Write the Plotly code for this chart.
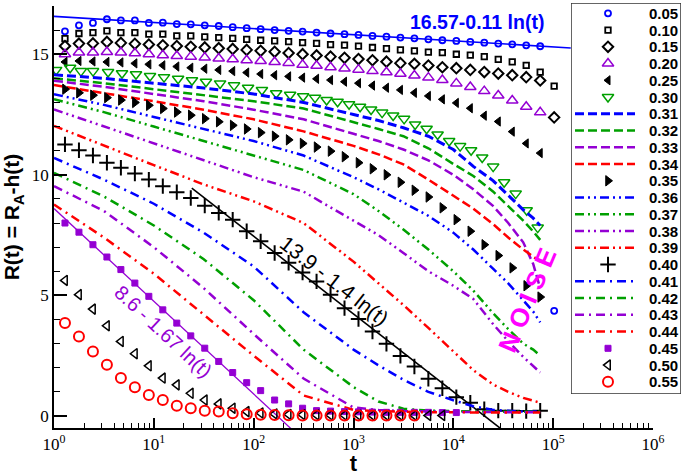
import plotly.graph_objects as go
import math

# ---------------- data ----------------
# common sampling times of the marker series
T = [1.288, 1.778, 2.455, 3.388, 4.677, 6.457, 8.913, 12.30, 16.98, 23.44, 32.36, 44.67,
     61.66, 85.11, 117.5, 162.2, 223.9, 309.0, 426.6, 588.8, 812.8, 1122, 1549, 2138,
     2951, 4074, 5623, 7762, 10715, 14791, 20417, 28184, 38905, 53703, 74131, 102329]
# sampling times of the p=0.30 series
T30 = [1.05, 1.45, 1.86, 2.46, 3.48, 4.80, 6.63, 9.16, 12.65, 17.5, 24.1, 33.3, 46.1, 63.6,
       87.9, 121, 168, 232, 313, 412, 538, 693, 903, 1164, 1500, 1935, 2495, 3214, 4142,
       5400, 6960, 9080, 11700, 15070, 19450, 25060, 32280, 42100, 54300, 70000]
# sampling times of the line series
TL = [1, 3.162, 10, 31.62, 100, 316.2, 1000, 1778, 3162, 5623, 10000, 15849, 25119,
      35481, 50119, 63096, 74131]

R05 = [15.95, 16.2, 16.3, 16.45, 16.4, 16.4, 16.3, 16.31, 16.25, 16.24, 16.2, 16.17, 16.12,
       16.08, 16.04, 16.0, 15.97, 15.94, 15.9, 15.86, 15.83, 15.8, 15.76, 15.73, 15.69, 15.66,
       15.62, 15.58, 15.55, 15.51, 15.48, 15.44, 15.41, 15.37, 15.33, 4.36]
R10 = [15.65, 15.86, 15.9, 15.97, 15.9, 15.9, 15.83, 15.83, 15.76, 15.76, 15.72, 15.69, 15.66,
       15.62, 15.58, 15.55, 15.52, 15.48, 15.45, 15.4, 15.38, 15.34, 15.28, 15.23, 15.18, 15.14,
       15.09, 15.07, 15.0, 14.96, 14.9, 14.79, 14.68, 14.54, 14.26, 13.68]
R15 = [15.34, 15.44, 15.45, 15.51, 15.47, 15.43, 15.4, 15.37, 15.34, 15.31, 15.28, 15.25, 15.22,
       15.18, 15.14, 15.1, 15.05, 15.0, 14.95, 14.9, 14.85, 14.8, 14.75, 14.69, 14.63, 14.6,
       14.53, 14.46, 14.42, 14.35, 14.26, 14.2, 14.13, 14.05, 13.91, 12.38]
R20 = [15.0, 15.07, 15.07, 15.09, 15.07, 15.04, 15.0, 14.96, 14.93, 14.9, 14.86, 14.82, 14.79,
       14.75, 14.72, 14.68, 14.64, 14.56, 14.52, 14.46, 14.41, 14.36, 14.3, 14.25, 14.19, 14.12,
       14.03, 13.93, 13.79, 13.64, 13.47, 13.29, 13.08, 12.82, 12.59]
R25 = [14.68, 14.72, 14.7, 14.68, 14.66, 14.62, 14.58, 14.54, 14.49, 14.44, 14.4, 14.35, 14.3,
       14.24, 14.18, 14.13, 14.08, 14.03, 13.98, 13.93, 13.86, 13.8, 13.7, 13.61, 13.52, 13.4,
       13.27, 13.13, 12.98, 12.76, 12.45, 12.21, 11.79, 11.3, 10.9]
R30 = [14.35, 14.44, 14.3, 14.3, 14.26, 14.21, 14.17, 14.1, 14.05, 13.98, 13.92, 13.86, 13.79,
       13.71, 13.61, 13.52, 13.38, 13.32, 13.26, 13.2, 13.1, 13.03, 12.93, 12.82, 12.71, 12.58,
       12.46, 12.32, 12.09, 11.91, 11.67, 11.4, 11.19, 11.02, 10.72, 10.34, 9.69, 9.22, 8.53, 7.81]
R35 = [13.55, 13.4, 13.3, 13.2, 13.1, 13.0, 12.88, 12.75, 12.6, 12.47, 12.33, 12.2, 12.05,
       11.9, 11.75, 11.6, 11.45, 11.3, 11.15, 10.98, 10.75, 10.5, 10.25, 10.0, 9.69, 9.36, 9.08,
       8.63, 8.14, 7.66, 7.1, 6.65, 6.14, 5.4, 4.93]
R40 = [11.26, 11.02, 10.8, 10.5, 10.29, 10.05, 9.8, 9.53, 9.28, 9.04, 8.72, 8.42, 8.14, 7.66,
       7.24, 6.76, 6.35, 5.95, 5.58, 5.03, 4.47, 4.02, 3.5, 2.99, 2.49, 2.05, 1.54, 1.15, 0.78,
       0.55, 0.28, 0.22, 0.22, 0.2, 0.22]
R45 = [8.0, 7.62, 7.1, 6.59, 6.07, 5.51, 4.96, 4.4, 3.85, 3.32, 2.81, 2.26, 1.8, 1.38, 1.05,
       0.66, 0.5, 0.32, 0.22, 0.2, 0.18, 0.17, 0.16, 0.15, 0.15, 0.15, 0.15, 0.14, 0.14]
R50 = [5.62, 5.03, 4.43, 3.74, 3.09, 2.58, 2.08, 1.57, 1.29, 0.94, 0.66, 0.5, 0.32, 0.18, 0.12,
       0.08, 0.06, 0.05, 0.04, 0.03, 0.03, 0.03, 0.02, 0.02, 0.02, 0.02, 0.02, 0.02]
R55 = [3.85, 3.29, 2.67, 2.12, 1.57, 1.19, 0.87, 0.66, 0.42, 0.32, 0.22, 0.18, 0.11, 0.07, 0.05,
       0.04, 0.03, 0.02, 0.02, 0.02, 0.02, 0.02, 0.02, 0.02, 0.02, 0.02]

L31 = [14.15, 14.0, 13.8, 13.6, 13.35, 13.0, 12.5, 12.25, 11.95, 11.6, 11.05, 10.35, 9.75, 9.15, 8.55, 8.2, 7.9]
L32 = [14.0, 13.8, 13.55, 13.3, 13.05, 12.75, 12.2, 11.9, 11.6, 11.1, 10.45, 9.95, 9.3, 8.7, 8.1, 7.65, 7.3]
L33 = [13.9, 13.65, 13.35, 13.05, 12.7, 12.3, 11.7, 11.4, 11.05, 10.6, 10.0, 9.4, 8.7, 8.0, 7.2, 6.3, 5.3]
L34 = [13.72, 13.4, 13.05, 12.7, 12.3, 11.8, 11.2, 10.85, 10.43, 9.8, 9.15, 8.6, 7.95, 7.4, 6.9, 6.6, 6.4]
L36 = [13.34, 12.9, 12.4, 11.9, 11.4, 10.8, 9.9, 9.4, 8.85, 8.3, 7.6, 6.9, 6.1, 5.5, 4.8, 4.33, 3.88]
L37 = [13.13, 12.6, 12.0, 11.4, 10.8, 10.2, 9.2, 8.5, 7.73, 6.9, 6.0, 5.2, 4.25, 3.6, 3.0, 2.75, 2.5]
L38 = [12.71, 12.0, 11.3, 10.6, 9.9, 9.3, 8.1, 7.5, 6.76, 6.0, 5.4, 4.85, 3.8, 3.1, 2.45, 2.05, 1.8]
L39 = [12.03, 11.2, 10.4, 9.6, 8.9, 8.0, 6.4, 5.5, 4.6, 3.65, 2.7, 1.9, 1.3, 1.0, 0.75, 0.62, 0.55]
L41 = [10.7, 9.8, 8.8, 7.6, 6.2, 4.3, 2.75, 2.1, 1.5, 1.0, 0.65, 0.4, 0.25, 0.2, 0.18, 0.18, 0.18]
L42 = [10.08, 9.1, 7.9, 6.5, 4.8, 2.75, 1.2, 0.6, 0.3, 0.22, 0.2, 0.18, 0.18, 0.17, 0.17, 0.17, 0.17]
L43 = [9.53, 8.5, 7.0, 5.3, 3.4, 1.55, 0.35, 0.25, 0.2, 0.18, 0.17, 0.16, 0.16, 0.15, 0.15, 0.15, 0.15]
L44 = [8.77, 7.4, 5.9, 4.2, 2.5, 0.85, 0.25, 0.2, 0.17, 0.15, 0.15, 0.14, 0.14, 0.14, 0.14, 0.14, 0.14]

# fits a - b ln(t): (a, b, t_start, t_end)
FIT_BLUE = (16.57, 0.11, 1, 1.5e5)
FIT_BLACK = (13.9, 1.4, 24, 1e5)
FIT_PURPLE = (8.6, 1.67, 1, 1000)

XTICKS = [1, 10, 100, 1000, 10000, 100000, 1000000]
XTICKTEXT = ["10<sup>0</sup>", "10<sup>1</sup>", "10<sup>2</sup>", "10<sup>3</sup>",
             "10<sup>4</sup>", "10<sup>5</sup>", "10<sup>6</sup>"]

# ---------------- styles ----------------
BLUE = "#0000ff"
GREEN = "#00a000"
PURPLE = "#9400d3"
RED = "#ff0000"
BLACK = "#000000"
MAGENTA = "#ff00ff"

DASH = "9px,4px"
DDD = "9px,4px,2px,4px,2px,4px"
DD = "9px,5px,2px,5px"

# (label, kind, x, y, style)
SERIES = [
    ("0.05", "m", T, R05, ("circle-open", BLUE, 6, 1.8)),
    ("0.10", "m", T, R10, ("square-open", BLACK, 5.5, 1.8)),
    ("0.15", "m", T, R15, ("diamond-open", BLACK, 8, 2)),
    ("0.20", "m", T, R20, ("triangle-up-open", PURPLE, 10, 1.5)),
    ("0.25", "m", T, R25, ("triangle-left", BLACK, 8, 1)),
    ("0.30", "m", T30, R30, ("triangle-down-open", GREEN, 10, 1.5)),
    ("0.31", "l", TL, L31, (BLUE, DASH, 3)),
    ("0.32", "l", TL, L32, (GREEN, DASH, 2.5)),
    ("0.33", "l", TL, L33, (PURPLE, DASH, 2.5)),
    ("0.34", "l", TL, L34, (RED, DASH, 2.5)),
    ("0.35", "m", T, R35, ("triangle-right", BLACK, 9, 1)),
    ("0.36", "l", TL, L36, (BLUE, DDD, 2.5)),
    ("0.37", "l", TL, L37, (GREEN, DDD, 2.5)),
    ("0.38", "l", TL, L38, (PURPLE, DDD, 2.5)),
    ("0.39", "l", TL, L39, (RED, DDD, 2.5)),
    ("0.40", "m", T, R40, ("cross-thin-open", BLACK, 11, 2)),
    ("0.41", "l", TL, L41, (BLUE, DD, 2.5)),
    ("0.42", "l", TL, L42, (GREEN, DD, 2.5)),
    ("0.43", "l", TL, L43, (PURPLE, DD, 2.5)),
    ("0.44", "l", TL, L44, (RED, DD, 2.5)),
    ("0.45", "m", T, R45, ("square", PURPLE, 6, 1)),
    ("0.50", "m", T, R50, ("triangle-left-open", BLACK, 9, 1.5)),
    ("0.55", "m", T, R55, ("circle-open", RED, 10, 2)),
]

# ---------------- geometry (pixels) ----------------
W, H = 685, 476
ML, MR, MT, MB = 54, 4, 3, 48
PLOT_RIGHT = 653      # right end of the main x axis
PLOT_TOP = 6          # top end of the main y axis
LEG_L, LEG_R, LEG_T, LEG_B = 571, 681, 3, 394
LEG_ROW0, LEG_DY = 13.3, 16.75

pw = W - ML - MR
ph = H - MT - MB
x_dom = [0, (PLOT_RIGHT - ML) / pw]
y_dom = [0, (H - MB - PLOT_TOP) / ph]
x2_dom = [(LEG_L - ML) / pw, 1]
y2_dom = [(H - MB - LEG_B) / ph, 1]
y2_top = (LEG_T - LEG_ROW0) / LEG_DY
y2_bot = (LEG_B - LEG_ROW0) / LEG_DY


def fit_curve(p, n=60):
    a, b, t0, t1 = p
    lt0, lt1 = math.log10(t0), math.log10(t1)
    xs = [10 ** (lt0 + (lt1 - lt0) * i / (n - 1)) for i in range(n)]
    ys = [a - b * math.log(x) for x in xs]
    return xs, ys


fig = go.Figure()

for p, c, w in [(FIT_BLUE, BLUE, 1.6), (FIT_BLACK, BLACK, 1.6), (FIT_PURPLE, PURPLE, 1.3)]:
    xs, ys = fit_curve(p)
    fig.add_trace(go.Scatter(x=xs, y=ys, mode="lines", line=dict(color=c, width=w),
                             showlegend=False, hoverinfo="skip"))

for i, (name, kind, xv, yv, st) in enumerate(SERIES):
    if kind == "m":
        sym, col, size, lw = st
        mstyle = dict(symbol=sym, color=col, size=size, line=dict(color=col, width=lw))
        fig.add_trace(go.Scatter(x=xv[:len(yv)], y=yv, mode="markers", name=name,
                                 marker=mstyle, showlegend=False))
        # legend sample
        fig.add_trace(go.Scatter(x=[37], y=[i], mode="markers", marker=mstyle,
                                 xaxis="x2", yaxis="y2", showlegend=False, hoverinfo="skip"))
    else:
        col, dash, lw = st
        lstyle = dict(color=col, dash=dash, width=lw)
        fig.add_trace(go.Scatter(x=xv[:len(yv)], y=yv, mode="lines", name=name,
                                 line=lstyle, showlegend=False))
        fig.add_trace(go.Scatter(x=[4, 64], y=[i, i], mode="lines", line=lstyle,
                                 xaxis="x2", yaxis="y2", showlegend=False, hoverinfo="skip"))
    fig.add_annotation(x=76, y=i, xref="x2", yref="y2", text=name, showarrow=False,
                       xanchor="left", yanchor="middle",
                       font=dict(family="Liberation Sans", size=15, color="black", weight="bold"))

# legend box
fig.add_shape(type="rect", xref="x2", yref="y2", x0=0, x1=LEG_R - LEG_L, y0=y2_top, y1=y2_bot,
              line=dict(color="#333333", width=1.5), fillcolor="white", layer="below")

fig.add_annotation(x=math.log10(17400), y=16.33, text="16.57-0.11 ln(t)", showarrow=False,
                   font=dict(family="Liberation Sans", size=19.5, color=BLUE, weight="bold"))
fig.add_annotation(x=math.log10(640), y=5.61, text="13.9 - 1.4 ln(t)", showarrow=False,
                   textangle=38, font=dict(family="Liberation Sans", size=21, color=BLACK))
fig.add_annotation(x=math.log10(12.6), y=3.49, text="8.6 - 1.67 ln(t)", showarrow=False,
                   textangle=43, font=dict(family="Liberation Sans", size=20, color=PURPLE))
fig.add_annotation(x=math.log10(55000), y=4.82, text="N O I S E", showarrow=False,
                   textangle=-67, font=dict(family="Liberation Sans", size=26, color=MAGENTA,
                                            weight="bold"))

fig.update_layout(
    width=W, height=H,
    margin=dict(l=ML, r=MR, t=MT, b=MB, autoexpand=False),
    plot_bgcolor="rgba(0,0,0,0)", paper_bgcolor="white",
    font=dict(family="Liberation Serif", color="black"),
    showlegend=False,
    xaxis=dict(type="log", range=[0, 6], domain=x_dom, showline=True, linecolor="black",
               linewidth=1.5, showgrid=False, zeroline=False, ticks="inside", ticklen=10,
               tickwidth=1.5, tickcolor="black", tickvals=XTICKS, ticktext=XTICKTEXT,
               automargin=False, tickfont=dict(family="Liberation Serif", size=17),
               minor=dict(ticks="inside", ticklen=5, tickwidth=1.2, tickcolor="black", dtick="D1"),
               title=dict(text="<b>t</b>", font=dict(family="Liberation Sans", size=22), standoff=8)),
    yaxis=dict(range=[-0.5, 17], domain=y_dom, showline=True, linecolor="black", linewidth=1.5,
               showgrid=False, zeroline=False, ticks="inside", ticklen=13, tickwidth=1.5,
               tickcolor="black", dtick=5, tick0=0, automargin=False,
               tickfont=dict(family="Liberation Serif", size=17),
               minor=dict(ticks="inside", ticklen=6, tickwidth=1.2, tickcolor="black", dtick=1),
               title=dict(text="<b>R(t) = R<sub>A</sub>-h(t)</b>",
                          font=dict(family="Liberation Sans", size=21), standoff=6)),
    xaxis2=dict(domain=x2_dom, range=[0, LEG_R - LEG_L], anchor="y2", visible=False,
                fixedrange=True),
    yaxis2=dict(domain=y2_dom, range=[y2_bot, y2_top], anchor="x2", visible=False,
                fixedrange=True),
)

fig.write_html("out.html", config={"displayModeBar": False},
               post_script="document.body.style.margin='0px';")
